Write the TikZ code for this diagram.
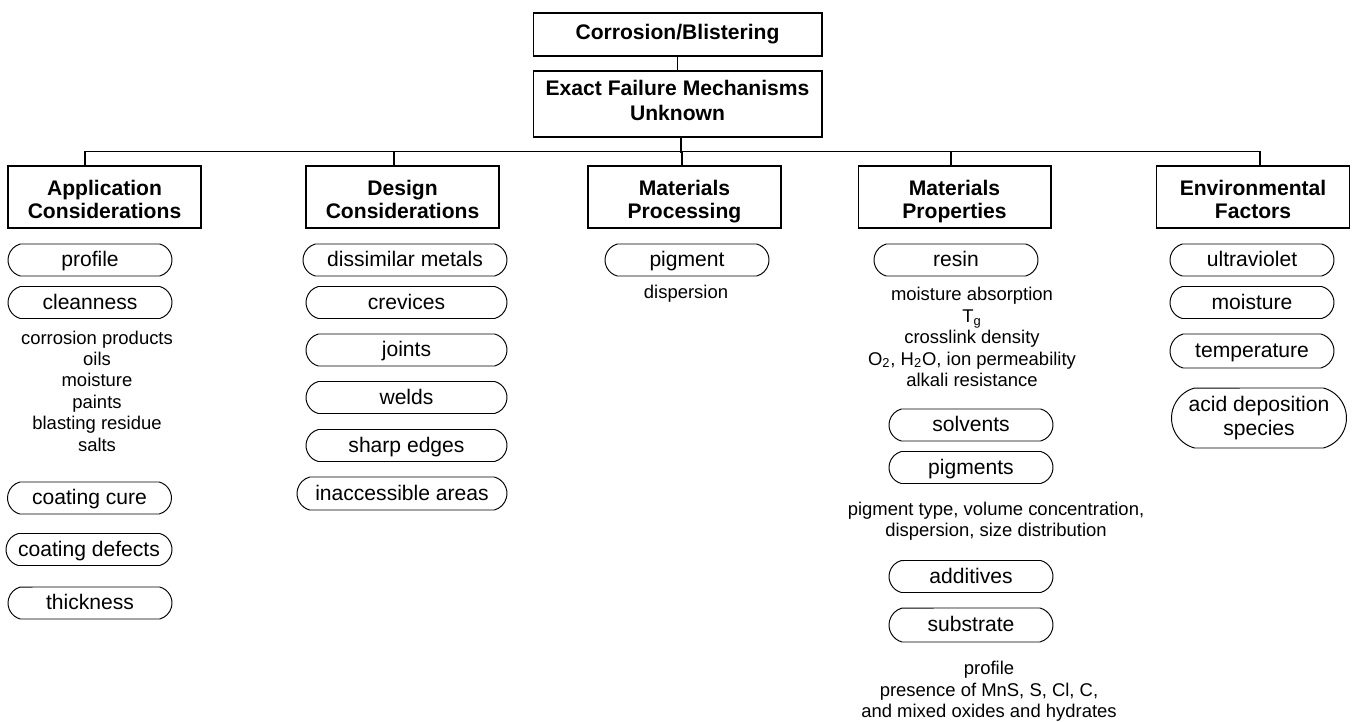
\documentclass[tikz,border=0pt]{standalone}
\usepackage{fontspec}
\setmainfont{Liberation Sans}
\usetikzlibrary{shapes.misc,calc}

\newcommand{\catlines}[2]{\rule{0pt}{13.6pt}#1\\#2\rule[-2.6pt]{0pt}{2.6pt}}

\tikzset{
  headbox/.style={draw, line width=0.6pt, font=\fontsize{12}{14}\selectfont\bfseries,
    align=center, minimum width=5.78cm, inner sep=0pt,
    execute at begin node=\strut, execute at end node=\strut},
  catbox/.style={draw, line width=0.6pt, font=\fontsize{12}{13}\selectfont\bfseries,
    align=center, minimum width=3.86cm, minimum height=1.24cm, inner sep=0pt},
  pillbase/.style={draw, rounded rectangle, rounded rectangle arc length=150,
    line width=0.55pt, font=\fontsize{12}{13.6}\selectfont, align=center,
    minimum width=3.28cm, minimum height=0.64cm, inner sep=0pt},
  pill/.style={pillbase, text height=9pt, text depth=1.4pt},
  notes/.style={font=\fontsize{10.5}{12.2}\selectfont, align=center, inner sep=0pt},
  link/.style={line width=0.6pt},
}

\begin{document}
\begin{tikzpicture}[x=0.02cm, y=-0.02cm]

  \useasboundingbox (0,0) rectangle (1356,721);

  \node (top) [headbox, minimum height=0.86cm] at (677.5,34.5) {Corrosion/Blistering};
  \node (efm) [headbox, minimum height=1.32cm] at (677.5,104) {Exact Failure Mechanisms\\Unknown};

  \node (app)  [catbox] at (104.5,197) {\catlines{Application}{Considerations}};
  \node (des)  [catbox] at (402.5,197) {\catlines{Design}{Considerations}};
  \node (proc) [catbox] at (684.5,197) {\catlines{Materials}{Processing}};
  \node (prop) [catbox] at (954.5,197) {\catlines{Materials}{Properties}};
  \node (env)  [catbox] at (1253,197) {\catlines{Environmental}{Factors}};

  \draw [link] (top) -- (efm);
  \draw [link] ($(efm.south)+(3.5,0)$) -- ++(0,15);
  \draw [link] ($(app.north)+(-19.5,-14)$) -- ($(env.north)+(7,-14)$);
  \foreach \n/\dx in {app/-19.5, des/-8.5, proc/-2.5, prop/-3.5, env/7}
    \draw [link] ($(\n.north)+(\dx,0)$) -- ++(0,-14);

  \node (a1) [pill] at (90,260) {profile};
  \node (a2) [pill] at (90,302.5) {cleanness};
  \node (a3) [notes] at (97,391) {corrosion products\\oils\\moisture\\paints\\blasting residue\\salts};
  \node (a4) [pill] at (89.5,498) {coating cure};
  \node (a5) [pill, minimum width=3.32cm] at (89,549.5) {coating defects};
  \node (a6) [pill] at (90,603) {thickness};

  \node (d1) [pill, minimum width=4.08cm] at (405,260) {dissimilar metals};
  \node (d2) [pill, minimum width=4.02cm] at (406.5,302.5) {crevices};
  \node (d3) [pill, minimum width=4.02cm] at (406.5,350) {joints};
  \node (d4) [pill, minimum width=4.02cm] at (406.5,397.5) {welds};
  \node (d5) [pill, minimum width=4.02cm] at (406.5,445.5) {sharp edges};
  \node (d6) [pill, minimum width=4.2cm, minimum height=0.66cm] at (402,493.5) {inaccessible areas};

  \node (p1) [pill] at (687,260) {pigment};
  \node (p2) [notes] at (686,294) {dispersion};

  \node (m1) [pill] at (956,260) {resin};
  \node (m2) [notes] at (972,337) {moisture absorption\\T\textsubscript{g}\\crosslink density\\O\textsubscript{2}, H\textsubscript{2}O, ion permeability\\alkali resistance};
  \node (m3) [pill] at (971,425) {solvents};
  \node (m4) [pill] at (971,467.5) {pigments};
  \node (m5) [notes] at (996,521.5) {pigment type, volume concentration,\\dispersion, size distribution};
  \node (m6) [pill] at (971,576.5) {additives};
  \node (m7) [pill, minimum height=0.68cm] at (971,625) {substrate};
  \node (m8) [notes] at (989,691.5) {profile\\presence of MnS, S, Cl, C,\\and mixed oxides and hydrates};

  \node (e1) [pill] at (1252,260) {ultraviolet};
  \node (e2) [pill] at (1252,302.5) {moisture};
  \node (e3) [pill, minimum height=0.68cm] at (1252,351) {temperature};
  \node (e4) [pillbase, minimum width=3.5cm, minimum height=1.2cm] at (1259,418) {acid deposition\\species};

\end{tikzpicture}
\end{document}
